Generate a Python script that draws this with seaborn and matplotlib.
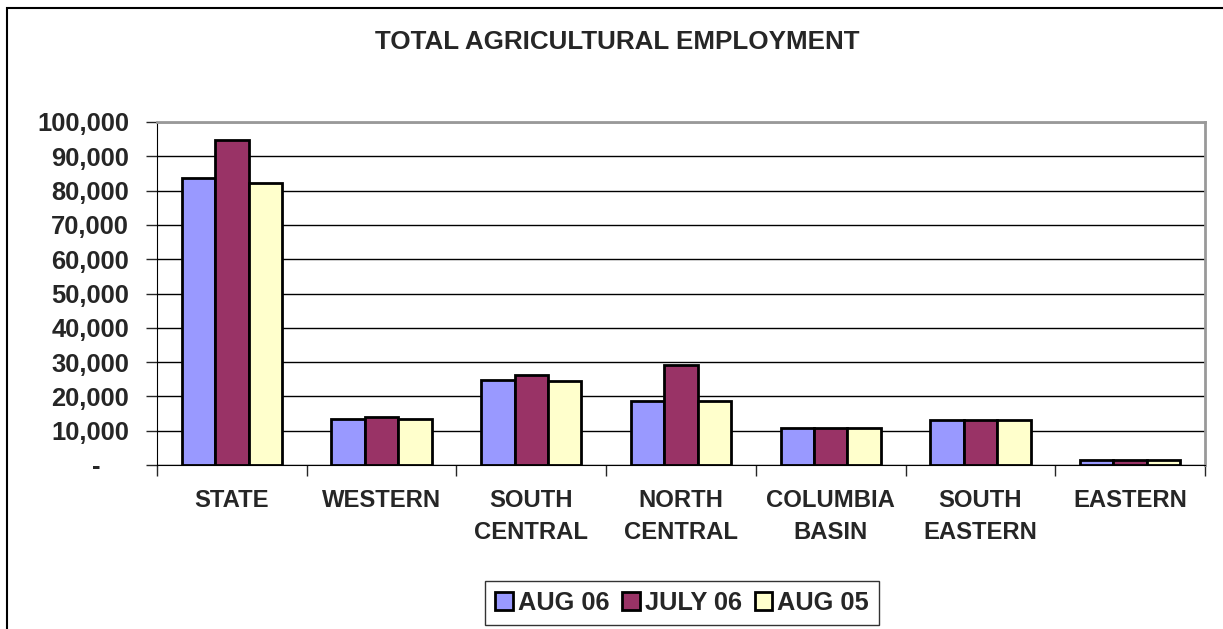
import pandas as pd
import seaborn as sns
import matplotlib.pyplot as plt
from matplotlib.patches import Rectangle
from matplotlib.ticker import FuncFormatter, FixedLocator

# Chart data
regions = ["STATE", "WESTERN", "SOUTH\nCENTRAL", "NORTH\nCENTRAL",
           "COLUMBIA\nBASIN", "SOUTH\nEASTERN", "EASTERN"]
series_names = ["AUG 06", "JULY 06", "AUG 05"]
aug_06 = [83700, 13300, 24900, 18600, 10900, 13200, 1600]
july_06 = [94700, 13900, 26200, 29100, 10900, 13200, 1600]
aug_05 = [82100, 13300, 24400, 18600, 10900, 13200, 1600]
bar_colors = ["#9999FF", "#993366", "#FFFFCC"]

df = pd.DataFrame({"region": regions * 3,
                   "series": [s for s in series_names for _ in regions],
                   "value": aug_06 + july_06 + aug_05})

sns.set_style("white")
plt.rcParams['font.family'] = ['Liberation Sans', 'DejaVu Sans']
plt.rcParams['font.weight'] = 'bold'

fig = plt.figure(figsize=(12.23, 6.29), dpi=100)
ax = fig.add_axes([157 / 1223, 1 - 465 / 629, (1205 - 157) / 1223, (465 - 122) / 629])

sns.barplot(data=df, x="region", y="value", hue="series", hue_order=series_names,
            palette=bar_colors, width=0.67, edgecolor="black", linewidth=2,
            saturation=1, ax=ax, legend=True)

ax.set_xlim(-0.5, len(regions) - 0.5)
ax.set_ylim(0, 100000)
ax.set_yticks(range(0, 100001, 10000))
# Excel accounting style: zero shown as a dash, set in from the right
ax.yaxis.set_major_formatter(FuncFormatter(lambda v, p: "-    " if v == 0 else f"{int(v):,}"))
ax.set_xlabel("")
ax.set_ylabel("")
ax.grid(axis="y", color="black", linewidth=1)
ax.set_axisbelow(True)

for side in ["top", "right"]:
    ax.spines[side].set_color("#999999")
    ax.spines[side].set_linewidth(2)
ax.spines["left"].set_color("black")
ax.spines["bottom"].set_color("black")

ax.tick_params(axis="y", which="major", length=8, width=1, direction="out",
               left=True, labelsize=18.4, pad=12)
ax.tick_params(axis="x", which="major", length=0, labelsize=17.2, pad=17)
ax.xaxis.set_minor_locator(FixedLocator([i - 0.5 for i in range(len(regions) + 1)]))
ax.tick_params(axis="x", which="minor", length=8, width=1, bottom=True, direction="out")
for lab in ax.get_xticklabels() + ax.get_yticklabels():
    lab.set_fontweight("bold")
    lab.set_linespacing(1.5)

fig.text(617 / 1223, 1 - 42 / 629, "TOTAL AGRICULTURAL EMPLOYMENT", ha="center",
         va="center", fontsize=18.7, fontweight="bold")

handles, labels = ax.get_legend_handles_labels()
ax.get_legend().remove()
leg = fig.legend(handles, labels, loc="center", bbox_to_anchor=(682 / 1223, 1 - 603 / 629),
                 ncol=3, frameon=True, fancybox=False, edgecolor="black",
                 prop={"size": 18.3, "weight": "bold"}, handlelength=0.7, handleheight=0.7,
                 handletextpad=0.2, columnspacing=0.5, borderpad=0.4)
leg.get_frame().set_linewidth(1)

# outer chart frame
fig.patches.append(Rectangle((7 / 1223, -0.1), 1.2, 1 - 8 / 629 + 0.1, transform=fig.transFigure,
                             fill=False, edgecolor="black", linewidth=1.5))

fig.savefig("out.png", dpi=100)
